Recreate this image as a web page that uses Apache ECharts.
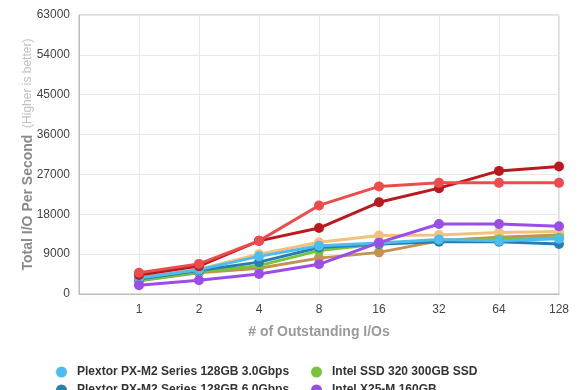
<!DOCTYPE html>
<html><head><meta charset="utf-8">
<script src="https://cdn.jsdelivr.net/npm/echarts@6/dist/echarts.min.js"></script>
<style>html,body{margin:0;padding:0;background:#fff}#c{width:580px;height:390px}</style>
</head><body><div id="c"></div>
<script>
var categories = ['', '1', '2', '4', '8', '16', '32', '64', '128'];
var yTicks = {min: 0, max: 63000, interval: 9000};
var names = ['Plextor PX-M2 Series 128GB 3.0Gbps', 'Intel SSD 320 300GB SSD', 'Plextor PX-M2 Series 128GB 6.0Gbps', 'Intel X25-M 160GB', 'OCZ Vertex 3 240GB', 'Crucial m4 256GB', 'Samsung 830 256GB', 'Intel SSD 510 250GB'];
var plextor3 = [null, 3600, 5500, 8500, 10900, 11500, 12300, 12000, 12500];
var intel320 = [null, 3000, 5000, 6400, 9800, 11300, 11900, 12300, 12700];
var plextor6 = [null, 3400, 5300, 7200, 10500, 11300, 11800, 11800, 11300];
var x25m = [null, 2000, 3100, 4500, 6700, 11600, 15800, 15800, 15300];
var vertex3 = [null, 4800, 6800, 12000, 20000, 24300, 25100, 25100, 25100];
var m4 = [null, 4300, 6300, 12000, 14900, 20700, 23900, 27800, 28800];
var s830 = [null, 3600, 5600, 9000, 11700, 13200, 13300, 13900, 14100];
var i510 = [null, 3000, 4800, 5800, 8100, 9400, 12000, 12800, 13300];
var colors = ['#4cbdee', '#77c43a', '#2580b0', '#9b4de8', '#ec4c4c', '#b9191f', '#f1c27d', '#c3924f'];
var values = [plextor3, intel320, plextor6, x25m, vertex3, m4, s830, i510];
var drawOrder = [7, 6, 1, 2, 0, 3, 5, 4];

var font = "'Helvetica Neue', Helvetica, 'Liberation Sans', Arial, sans-serif";
var series = drawOrder.map(function (i) {
  return {
    name: names[i], type: 'line', data: values[i], color: colors[i],
    symbol: 'circle', symbolSize: 10, showSymbol: true,
    lineStyle: {width: 3}, connectNulls: false, animation: false
  };
});
function legendCol(idx, left) {
  return {
    orient: 'vertical', left: left, top: 361, height: 120, itemGap: 6, itemWidth: 11, itemHeight: 11,
    icon: 'circle', data: idx.map(function (i) { return names[i]; }),
    textStyle: {fontFamily: font, fontSize: 12, fontWeight: 'bold', color: '#333', padding: [0, 0, 0, 5]},
    selectedMode: false
  };
}
var chart = echarts.init(document.getElementById('c'), null, {renderer: 'canvas'});
chart.setOption({
  animation: false,
  grid: {left: 79, right: 21, top: 15, bottom: 96, show: true, borderColor: '#bbb', borderWidth: 1},
  legend: [legendCol([0, 2, 4, 6], 51), legendCol([1, 3, 5, 7], 306)],
  xAxis: {
    type: 'category', data: categories, boundaryGap: false,
    name: '# of Outstanding I/Os', nameLocation: 'middle', nameGap: 31, nameMoveOverlap: false,
    nameTextStyle: {fontFamily: font, fontSize: 14, fontWeight: 'bold', color: '#9a9a9a'},
    axisLine: {lineStyle: {color: '#bbb', width: 1, shadowColor: 'rgba(0,0,0,0.12)', shadowBlur: 6, shadowOffsetY: 4}},
    axisTick: {show: false},
    axisLabel: {fontFamily: font, fontSize: 12, color: '#444', margin: 10, interval: 0},
    splitLine: {show: true, lineStyle: {color: '#e8e8e8', width: 1}}
  },
  yAxis: {
    type: 'value', min: yTicks.min, max: yTicks.max, interval: yTicks.interval,
    name: '{a|Total I/O Per Second}  {b|(Higher is better)}', nameLocation: 'middle', nameGap: 44, nameMoveOverlap: false,
    nameTextStyle: {rich: {
      a: {fontFamily: font, fontSize: 14, fontWeight: 'bold', color: '#8a8a8a'},
      b: {fontFamily: font, fontSize: 12, color: '#c0c0c0'}
    }},
    axisLine: {show: true, lineStyle: {color: '#bbb'}},
    axisTick: {show: false},
    axisLabel: {fontFamily: font, fontSize: 12, color: '#444', margin: 9, formatter: function (v) { return String(v); }},
    splitLine: {lineStyle: {color: '#e8e8e8', width: 1}}
  },
  series: series
});
</script></body></html>
